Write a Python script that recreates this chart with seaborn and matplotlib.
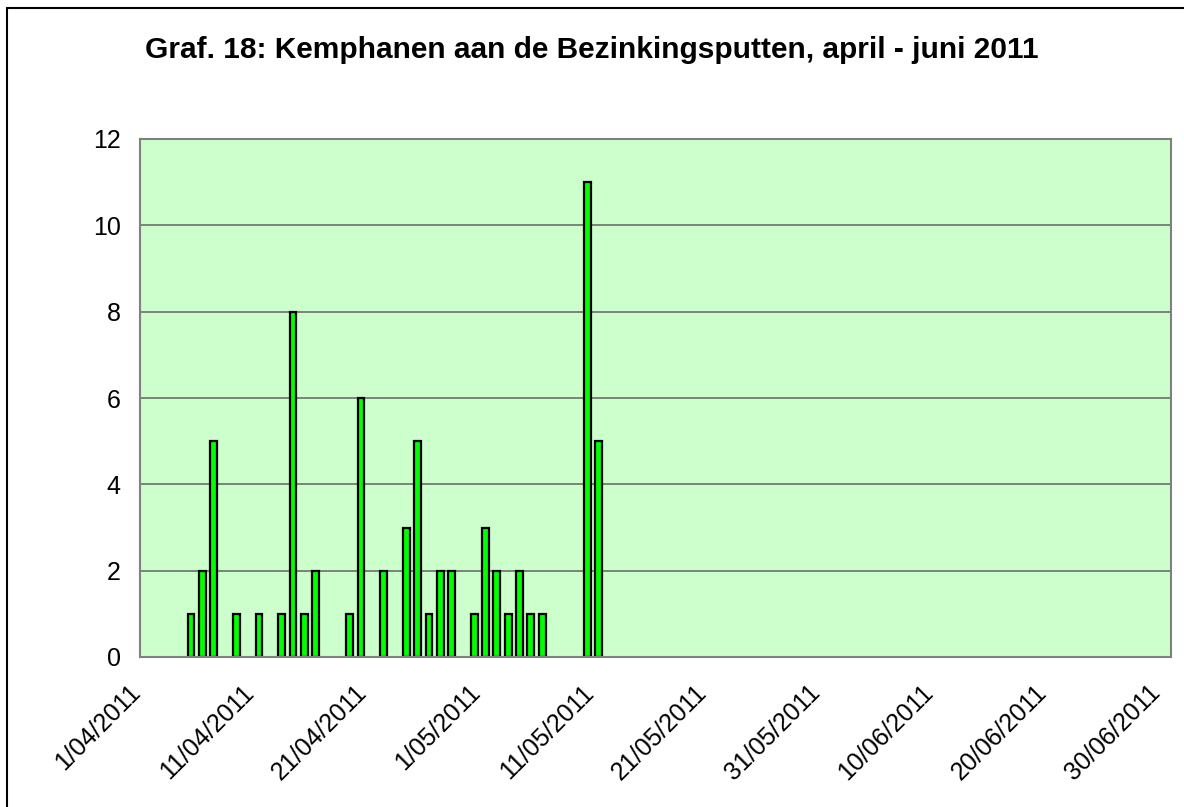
# Graf. 18: Kemphanen aan de Bezinkingsputten, april - juni 2011

import pandas as pd
import matplotlib.pyplot as plt
import matplotlib.lines as mlines
import matplotlib.transforms as mtransforms
import seaborn as sns


# Data
dates = [
    "2011-04-05", "2011-04-06", "2011-04-07", "2011-04-09", "2011-04-11",
    "2011-04-13", "2011-04-14", "2011-04-15", "2011-04-16", "2011-04-19",
    "2011-04-20", "2011-04-22", "2011-04-24", "2011-04-25", "2011-04-26",
    "2011-04-27", "2011-04-28", "2011-04-30", "2011-05-01", "2011-05-02",
    "2011-05-03", "2011-05-04", "2011-05-05", "2011-05-06", "2011-05-10",
    "2011-05-11",
]
counts = [1, 2, 5, 1, 1, 1, 8, 1, 2, 1, 6, 2, 3, 5, 1, 2, 2, 1, 3, 2, 1, 2, 1, 1, 11, 5]

tick_dates = pd.date_range("2011-04-01", "2011-06-30", freq="10D")
tick_labels = [f"{d.day}/{d.month:02d}/{d.year}" for d in tick_dates]
y_ticks = [0, 2, 4, 6, 8, 10, 12]

title = "Graf. 18: Kemphanen aan de Bezinkingsputten, april - juni 2011"


sns.set_style("white")
plt.rcParams['font.family'] = ['Liberation Sans', 'DejaVu Sans']
plt.rcParams['text.color'] = 'black'
plt.rcParams['xtick.labelcolor'] = 'black'
plt.rcParams['ytick.labelcolor'] = 'black'

start = pd.Timestamp("2011-04-01")

df = pd.DataFrame({
    'date': pd.to_datetime(dates),
    'count': counts
})
# each day fills the slot between two day boundaries
df['day'] = (df['date'] - start).dt.days + 0.5


fig = plt.figure(figsize=(11.84, 8.07), dpi=100)
ax = fig.add_axes([140 / 1184, 150 / 807, 1031 / 1184, 518 / 807])
ax.set_facecolor('#CCFFCC')

sns.barplot(
    data=df,
    x='day',
    y='count',
    native_scale=True,
    width=0.6,
    color='#00FF00',
    saturation=1,
    edgecolor='black',
    linewidth=1.6,
    errorbar=None,
    ax=ax
)

ax.set_axisbelow(True)
ax.yaxis.grid(True, color='#6E6E6E', linewidth=1.2)
ax.xaxis.grid(False)

ax.set_xlim(0, (pd.Timestamp("2011-06-30") - start).days + 1)
ax.set_ylim(0, 12)

ax.set_xticks([(d - start).days for d in tick_dates])
ax.set_xticklabels(tick_labels, rotation=45, ha='right', rotation_mode='anchor', fontsize=18, color='black')
ax.set_yticks(y_ticks)
ax.set_yticklabels([str(v) for v in y_ticks], fontsize=18, color='black')

ax.tick_params(axis='both', direction='out', length=6, width=1.2, color='#808080')
ax.tick_params(axis='y', pad=8)
ax.tick_params(axis='x', pad=8)
ax.set_xlabel("")
ax.set_ylabel("")

# nudge the date labels a little left and down
shift = mtransforms.ScaledTranslation(-12 / 100, -4 / 100, fig.dpi_scale_trans)
for lab in ax.get_xticklabels():
    lab.set_transform(lab.get_transform() + shift)

for side in ['left', 'right', 'top', 'bottom']:
    ax.spines[side].set_visible(True)
    ax.spines[side].set_color('#808080')
    ax.spines[side].set_linewidth(1.5)

fig.text(0.5, 1 - 50 / 807, title, ha='center', va='center', fontsize=21.5, fontweight='bold', color='black')

# outer chart frame (only top and left edge visible in the picture)
fig.add_artist(mlines.Line2D([7 / 1184, 7 / 1184], [0, 1 - 8 / 807], color='black', linewidth=1.5))
fig.add_artist(mlines.Line2D([7 / 1184, 1], [1 - 8 / 807, 1 - 8 / 807], color='black', linewidth=1.5))

plt.savefig("out.png", dpi=100)
